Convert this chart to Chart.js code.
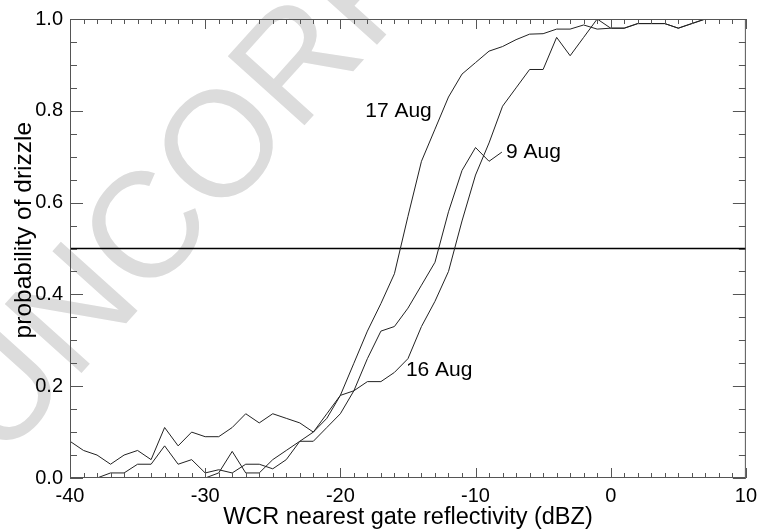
<!DOCTYPE html>
<html lang="en">

<head>
    <meta charset="UTF-8">
    <title>Probability of drizzle vs WCR reflectivity</title>
    <script src="https://cdn.jsdelivr.net/npm/chart.js"></script>
    <style>
        body { margin: 0; background: #fff; }
    </style>
</head>

<body>
    <canvas id="chart" width="763" height="532"></canvas>

    <script>
        // reflectivity bins (dBZ)
        const dbz = [-40, -39, -38, -37, -36, -35, -34, -33, -32, -31,
            -30, -29, -28, -27, -26, -25, -24, -23, -22, -21,
            -20, -19, -18, -17, -16, -15, -14, -13, -12, -11,
            -10, -9, -8, -7, -6, -5, -4, -3, -2, -1,
            0, 1, 2, 3, 4, 5, 6, 7, 8, 9, 10];

        // probability of drizzle per bin, one list per flight day
        const aug17 = [null, null, 0.00, 0.011, 0.011, 0.03, 0.03, 0.07, 0.03, 0.04,
            0.011, 0.018, 0.011, 0.03, 0.03, 0.02, 0.04, 0.08, 0.10, 0.13,
            0.18, 0.25, 0.32, 0.38, 0.445, 0.57, 0.69, 0.76, 0.83, 0.88,
            0.905, 0.93, 0.94, 0.955, 0.967, 0.968, 0.978, 0.978, 0.987, 0.978,
            0.98, 0.98, 0.99, 0.99, 0.99, 0.98, 0.99, 1.0, 1.0, 1.0, 1.0];

        const aug9 = [null, null, null, null, null, null, null, null, null, null,
            0.00, 0.011, 0.058, 0.011, 0.011, 0.04, 0.06, 0.08, 0.08, 0.11,
            0.14, 0.19, 0.26, 0.32, 0.33, 0.37, 0.42, 0.47, 0.58, 0.67,
            0.72, 0.69, null, null, null, null, null, null, null, null,
            null, null, null, null, null, null, null, null, null, null, null];

        const aug16 = [0.08, 0.06, 0.05, 0.03, 0.05, 0.06, 0.04, 0.11, 0.07, 0.10,
            0.09, 0.09, 0.11, 0.14, 0.12, 0.14, 0.13, 0.12, 0.10, 0.14,
            0.18, 0.19, 0.21, 0.21, 0.23, 0.26, 0.33, 0.385, 0.45, 0.56,
            0.66, 0.73, 0.81, 0.85, 0.89, 0.89, 0.96, 0.92, 0.96, 1.0,
            0.98, 0.98, 0.99, 0.99, 0.99, 0.98, 0.99, 1.0, 1.0, 1.0, 1.0];

        // 50% threshold line
        const halfLevel = 0.5;

        // curve labels: text, anchor (dBZ, probability), alignment
        const labelText = ['17 Aug', '9 Aug', '16 Aug'];
        const labelX = [-15.7, -7.75, -15.15];
        const labelY = [0.80, 0.71, 0.235];
        const labelAlign = ['center', 'left', 'left'];

        // x / y tick values
        const xMajor = [-40, -30, -20, -10, 0, 10];
        const yMajor = [0, 0.2, 0.4, 0.6, 0.8, 1.0];

        const yTitle = 'probability of drizzle';
        const xTitle = 'WCR nearest gate reflectivity (dBZ)';

        const FONT = '"Liberation Sans", Arial, Helvetica, sans-serif';

        function toPoints(values) {
            return dbz.map((x, i) => ({ x: x, y: values[i] }));
        }

        // frame with inward ticks on all four sides, curve labels, watermark
        const framePlugin = {
            id: 'framePlugin',
            beforeDraw(chart) {
                const ctx = chart.ctx;
                ctx.save();
                ctx.fillStyle = '#fff';
                ctx.fillRect(0, 0, chart.width, chart.height);
                ctx.translate(-30, 435);
                ctx.rotate(-48 * Math.PI / 180);
                ctx.font = '150px ' + FONT;
                ctx.fillStyle = '#dcdcdc';
                ctx.textBaseline = 'middle';
                ctx.fillText('UNCORRECTED', 0, 0);
                ctx.restore();
            },
            afterDatasetsDraw(chart) {
                const ctx = chart.ctx;
                const xs = chart.scales.x;
                const ys = chart.scales.y;
                const a = chart.chartArea;
                ctx.save();
                ctx.strokeStyle = '#555';
                ctx.lineWidth = 1;
                ctx.strokeRect(a.left + 0.5, a.top + 0.5, a.right - a.left - 1, a.bottom - a.top - 1);
                ctx.beginPath();
                for (let v = xs.min; v <= xs.max; v += 1) {
                    const px = Math.round(xs.getPixelForValue(v)) + 0.5;
                    const len = (v % 10 === 0) ? 10 : 5;
                    ctx.moveTo(px, a.bottom);
                    ctx.lineTo(px, a.bottom - len);
                    ctx.moveTo(px, a.top);
                    ctx.lineTo(px, a.top + len);
                }
                for (let k = 0; k <= 20; k++) {
                    const v = k * 0.05;
                    const py = Math.round(ys.getPixelForValue(v)) + 0.5;
                    const len = (k % 4 === 0) ? 13 : 7;
                    ctx.moveTo(a.left, py);
                    ctx.lineTo(a.left + len, py);
                    ctx.moveTo(a.right, py);
                    ctx.lineTo(a.right - len, py);
                }
                ctx.stroke();

                // leader from the end of the 9 Aug curve to its label
                let last = aug9.length - 1;
                while (aug9[last] === null) last--;
                ctx.strokeStyle = '#222';
                ctx.beginPath();
                ctx.moveTo(xs.getPixelForValue(dbz[last]), ys.getPixelForValue(aug9[last]));
                ctx.lineTo(xs.getPixelForValue(labelX[1] - 0.3), ys.getPixelForValue(labelY[1]));
                ctx.stroke();

                ctx.fillStyle = '#000';
                ctx.font = '21px ' + FONT;
                ctx.textBaseline = 'middle';
                labelText.forEach((t, i) => {
                    ctx.textAlign = labelAlign[i];
                    ctx.fillText(t, xs.getPixelForValue(labelX[i]), ys.getPixelForValue(labelY[i]));
                });

                // y axis title, sitting a little above the axis midpoint
                ctx.save();
                ctx.translate(24, ys.getPixelForValue(0.54));
                ctx.rotate(-Math.PI / 2);
                ctx.textAlign = 'center';
                ctx.font = '24.5px ' + FONT;
                ctx.fillText(yTitle, 0, 0);
                ctx.restore();
                ctx.restore();
            }
        };

        const lineStyle = {
            borderColor: '#222',
            borderWidth: 1,
            pointRadius: 0,
            fill: false,
            tension: 0,
            spanGaps: false
        };

        new Chart(document.getElementById('chart'), {
            type: 'line',
            data: {
                datasets: [
                    Object.assign({ label: '17 Aug', data: toPoints(aug17) }, lineStyle),
                    Object.assign({ label: '9 Aug', data: toPoints(aug9) }, lineStyle),
                    Object.assign({ label: '16 Aug', data: toPoints(aug16) }, lineStyle),
                    {
                        label: '50%',
                        data: [{ x: -40, y: halfLevel }, { x: 10, y: halfLevel }],
                        borderColor: '#000',
                        borderWidth: 1.6,
                        pointRadius: 0,
                        fill: false
                    }
                ]
            },
            options: {
                responsive: false,
                animation: false,
                layout: { padding: { top: 19, right: 12, left: 0, bottom: 0 } },
                plugins: {
                    legend: { display: false },
                    tooltip: { enabled: false }
                },
                scales: {
                    x: {
                        type: 'linear',
                        min: -40,
                        max: 10,
                        afterFit: s => { s.height = 54; },
                        afterBuildTicks: s => { s.ticks = xMajor.map(v => ({ value: v })); },
                        grid: { display: false, drawTicks: false },
                        border: { display: false },
                        ticks: {
                            color: '#000',
                            padding: 6,
                            maxRotation: 0,
                            autoSkip: false,
                            font: { family: FONT, size: 20 }
                        },
                        title: {
                            display: true,
                            text: xTitle,
                            color: '#000',
                            font: { family: FONT, size: 23.5 },
                            padding: { top: 0, bottom: 0 }
                        }
                    },
                    y: {
                        min: 0,
                        max: 1,
                        afterFit: s => { s.width = 70; },
                        afterBuildTicks: s => { s.ticks = yMajor.map(v => ({ value: v })); },
                        grid: { display: false, drawTicks: false },
                        border: { display: false },
                        ticks: {
                            color: '#000',
                            padding: 7,
                            callback: v => v.toFixed(1),
                            font: { family: FONT, size: 20 }
                        }
                    }
                }
            },
            plugins: [framePlugin]
        });
    </script>
</body>

</html>
